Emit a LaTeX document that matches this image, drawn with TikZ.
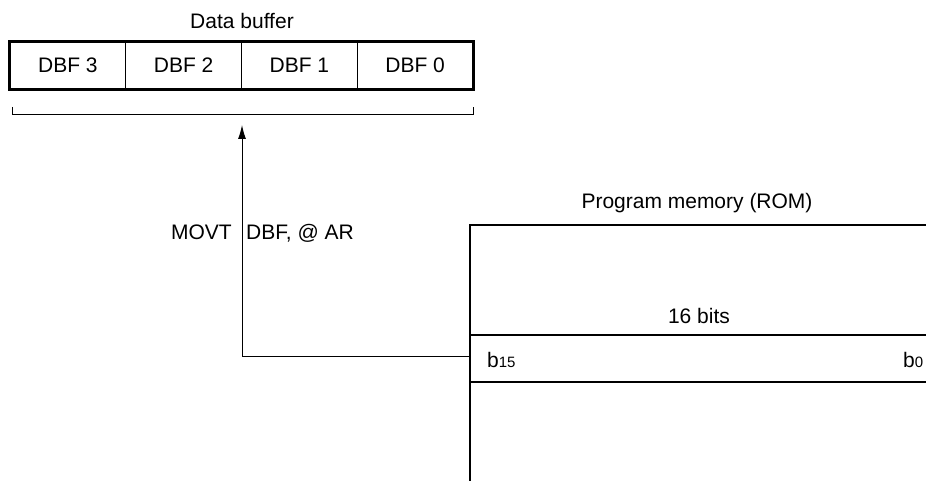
\documentclass[tikz,border=0pt]{standalone}
\usepackage{fontspec}
\setmainfont{Liberation Sans}
\usetikzlibrary{arrows.meta}
\begin{document}
\begin{tikzpicture}[x=1pt,y=-1pt,
  every node/.style={font=\fontsize{21}{25}\selectfont, inner sep=0pt},
  cell/.style={draw, line width=1pt, minimum width=115.75pt, minimum height=47pt},
  heavy/.style={line width=2.5pt},
  conn/.style={line width=1pt}]
\useasboundingbox (0,0) rectangle (926,481);
\begin{scope}
\clip (0,0) rectangle (926,481);
% data buffer
\node[anchor=base] (dbtitle) at (242,29) {Data buffer};
\node[cell] (c3) at (67.9,65.5) {DBF 3};
\node[cell] (c2) at (183.6,65.5) {DBF 2};
\node[cell] (c1) at (299.4,65.5) {DBF 1};
\node[cell] (c0) at (415.1,65.5) {DBF 0};
\draw[heavy] (c3.north west) rectangle (c0.south east);
% bracket
\coordinate (bl) at (12,107);
\coordinate (br) at (473,107);
\draw[conn] (bl) -- ++(0,8) -| (br);
\coordinate (tgt) at (242,125);
% ROM
\node[anchor=base] (romtitle) at (697,209) {Program memory (ROM)};
\draw[heavy] (945,225) -- (470,225) -- (470,495);
\draw[heavy] (470,335) -- (945,335);
\draw[heavy] (470,382) -- (945,382);
\node[anchor=base] (bits) at (699,323) {16 bits};
\node[anchor=base west] (b15) at (487,367) {b{\fontsize{15}{18}\selectfont 15}};
\node[anchor=base west] (b0) at (903,367) {b{\fontsize{15}{18}\selectfont 0}};
\coordinate (src) at (470,356);
% connector
\draw[conn, -{Latex[length=14pt,width=8pt]}] (src) -| (tgt);
\node[anchor=base east] (movt) at (232,239) {MOVT};
\node[anchor=base west] (opnd) at (246,239) {DBF, @ AR};
\end{scope}
\end{tikzpicture}
\end{document}
